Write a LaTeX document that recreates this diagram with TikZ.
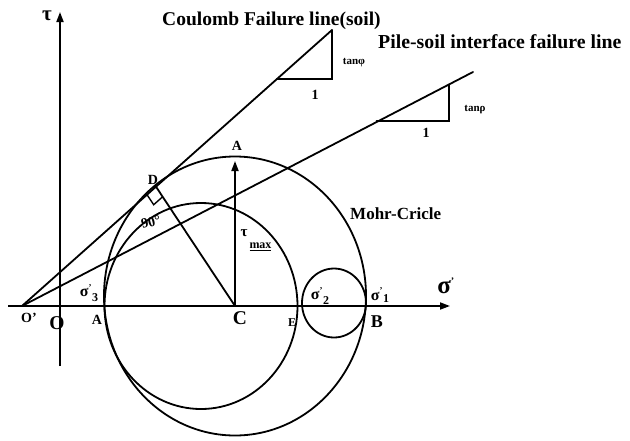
\documentclass[tikz,border=0pt]{standalone}
\usepackage{fontspec}
\setmainfont{Liberation Serif}
\usetikzlibrary{arrows.meta}
\newcommand{\fs}[1]{\fontsize{#1}{#1}\selectfont}
\begin{document}
\begin{tikzpicture}[x=1pt,y=-1pt,
  ln/.style={line width=1.8pt, line cap=round},
  ax/.style={line width=1.8pt, -{Triangle[length=10pt,width=7pt]}},
  lbl/.style={inner sep=0pt, font=\bfseries\fs{14}},
  big/.style={inner sep=0pt, font=\bfseries\fs{19.5}},
  sml/.style={inner sep=0pt, font=\bfseries\fs{11}},
  sig/.style={inner sep=0pt, font=\bfseries\fs{16}}]
\useasboundingbox (0,0) rectangle (630,440);
% key points
\coordinate (Op) at (22,306);
\coordinate (Xs) at (8,306);
\coordinate (Xe) at (450,306);
\coordinate (Ys) at (60,366);
\coordinate (Ye) at (60,12);
\coordinate (C) at (235,306);
\coordinate (Atop) at (235,161);
\coordinate (D) at (156,186.7);
\coordinate (L1) at (332,30);
\coordinate (L2) at (473,72);
\coordinate (T1a) at (277,79);
\coordinate (T1b) at (332,79);
\coordinate (T2a) at (376.6,121);
\coordinate (T2b) at (449,121);
\coordinate (T2c) at (449,84.5);
\coordinate (R1) at (147,194.7);
\coordinate (R2) at (153.7,204.7);
\coordinate (R3) at (162.7,196.7);
% axes
\draw[ax] (Xs) -- (Xe);
\draw[ax] (Ys) -- (Ye);
% circles
\draw[ln] (235,296) ellipse [x radius=131, y radius=139.5];
\draw[ln] (201,306) ellipse [x radius=96.5, y radius=103];
\draw[ln] (334,303) ellipse [x radius=32, y radius=34.5];
% failure lines
\draw[ln] (Op) -- (L1);
\draw[ln] (Op) -- (L2);
\draw[ln] (T1a) -- (T1b) -- (L1);
\draw[ln] (T2a) -- (T2b) -- (T2c);
% radius and tau max
\draw[ln] (C) -- (D);
\draw[ax] (C) -- (Atop);
\draw[line width=1.4pt] (R1) -- (R2) -- (R3);
% labels
\node[big, anchor=base west] (t1) at (162,25) {Coulomb Failure line(soil)};
\node[big, anchor=base west, font=\bfseries\fs{19.8}] (t2) at (378,48) {Pile-soil interface failure line};
\node[big, anchor=base west, font=\bfseries\fs{17}] (t3) at (350,219) {Mohr-Cricle};
\node[sml] (tphi) at (354,63) {tanφ};
\node[sml] (trho) at (475,110) {tanρ};
\node[lbl, font=\bfseries\fs{14}] (one1) at (315,95) {1};
\node[lbl, font=\bfseries\fs{14}] (one2) at (426,133) {1};
\node[inner sep=0pt, font=\bfseries\fs{21}] (tau) at (47,16) {τ};
\node[inner sep=0pt, font=\bfseries\fs{25}] (sig) at (446,286) {σ\textsuperscript{\fs{10}'}};
\node[lbl] (lOp) at (29,318) {O'};
\node[big] (lO) at (57,323) {O};
\node[lbl] (lA) at (97,320) {A};
\node[big] (lC) at (240,318) {C};
\node[lbl, font=\bfseries\fs{12}] (lE) at (292,323) {E};
\node[big, font=\bfseries\fs{18}] (lB) at (377,322) {B};
\node[lbl] (lAt) at (237,146) {A};
\node[lbl] (lD) at (153,180) {D};
\node[lbl, rotate=15, font=\bfseries\fs{14}] (l90) at (151,222) {90°};
\node[inner sep=0pt, font=\bfseries\fs{15}, align=left] (ltm) at (256,240) {τ\\[-3pt]\hspace*{0.6em}\underline{\fs{12}max}};
\node[sig] (s3) at (89,293) {σ\textsuperscript{\fs{9}'}\raisebox{-5pt}{\fs{12}3}};
\node[sig] (s2) at (320,296) {σ\textsuperscript{\fs{9}'}\raisebox{-5pt}{\fs{12}2}};
\node[sig] (s1) at (380,295) {σ\textsuperscript{\fs{9}'}\raisebox{-2pt}{\fs{12}1}};
\end{tikzpicture}
\end{document}
